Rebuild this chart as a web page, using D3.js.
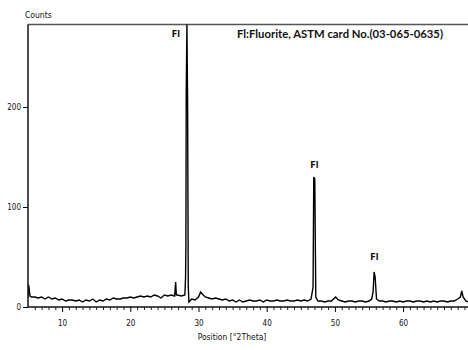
<!DOCTYPE html>
<html>
<head>
<meta charset="utf-8">
<script src="https://cdn.jsdelivr.net/npm/d3@7"></script>
<style>
  html, body { margin: 0; padding: 0; background: #fff; }
  svg { display: block; }
  .tick text { font-family: "Liberation Sans Narrow", "Arial Narrow", "DejaVu Sans Condensed", sans-serif; font-size: 8px; fill: #111; }
</style>
</head>
<body>
<svg id="chart" width="468" height="350"></svg>
<script>
// Diffraction angles (°2Theta) and intensities (counts) of the scan
const twoTheta = [
  5.0, 5.1, 5.3, 5.5, 6.0, 6.5, 7.0, 7.5, 8.0, 8.5, 9.0, 9.5,
  10.0, 10.5, 11.0, 11.5, 12.0, 12.5, 13.0, 13.5, 14.0, 14.5,
  15.0, 15.5, 16.0, 16.5, 17.0, 17.5, 18.0, 18.5, 19.0, 19.5,
  20.0, 20.5, 21.0, 21.5, 22.0, 22.5, 23.0, 23.5, 24.0, 24.5,
  25.0, 25.5, 26.0, 26.5, 26.65, 26.75, 26.9, 27.5, 28.0,
  28.1, 28.15, 28.2, 28.3, 28.4, 28.5, 28.6, 29.0, 29.5,
  30.0, 30.3, 30.7, 31.0, 31.5, 32.0, 32.5, 33.0, 33.5, 34.0, 34.5,
  35.0, 35.5, 36.0, 36.5, 37.0, 37.5, 38.0, 38.5, 39.0, 39.5,
  40.0, 40.5, 41.0, 41.5, 42.0, 42.5, 43.0, 43.5, 44.0, 44.5,
  45.0, 45.5, 46.0, 46.5, 46.8, 46.9, 47.05, 47.2, 47.5,
  48.0, 48.5, 49.0, 49.5, 50.1, 50.5, 51.0, 51.5, 52.0, 52.5,
  53.0, 53.5, 54.0, 54.5, 55.0, 55.4, 55.6, 55.75, 55.9, 56.1, 56.5,
  57.0, 57.5, 58.0, 58.5, 59.0, 59.5, 60.0, 60.5, 61.0, 61.5,
  62.0, 62.5, 63.0, 63.5, 64.0, 64.5, 65.0, 65.5, 66.0, 66.5,
  67.0, 67.5, 68.0, 68.4, 68.6, 68.8, 69.2, 69.6, 70.0
];
const counts = [
  9, 22, 11, 10, 10, 9, 10, 8, 10, 8, 9, 7,
  8, 6, 7, 7, 6, 7, 5, 7, 6, 8,
  5, 7, 6, 8, 7, 9, 8, 8, 9, 9,
  10, 9, 10, 11, 10, 11, 10, 12, 11, 9,
  12, 11, 12, 11, 25, 12, 12, 11, 12,
  29, 60, 212, 283, 208, 20, 5, 8, 7,
  10, 15, 12, 10, 9, 8, 9, 8, 7, 8, 6,
  7, 5, 7, 5, 6, 7, 6, 6, 7, 5,
  7, 6, 6, 7, 6, 6, 7, 6, 6, 7,
  6, 7, 6, 8, 20, 130, 128, 10, 6,
  6, 5, 6, 6, 10, 7, 6, 5, 6, 6,
  5, 6, 6, 5, 6, 8, 15, 35, 30, 8, 6,
  6, 5, 6, 6, 5, 6, 5, 6, 6, 5,
  6, 6, 5, 6, 5, 6, 5, 6, 6, 5,
  6, 6, 8, 10, 16, 10, 6, 5, 5
];

// Phase markers above the reflections
const peakLabels = ["Fl", "Fl", "Fl"];
const peakPositions = [26.7, 47.0, 55.8];
const peakLabelCounts = [270, 139, 47];

const xTicks = [10, 20, 30, 40, 50, 60];
const yTicks = [0, 100, 200];
const legendText = "Fl:Fluorite, ASTM card No.(03-065-0635)";

const svg = d3.select("#chart");
const plotLeft = 28, plotTop = 24.5, plotBottom = 307;

const x = d3.scaleLinear().domain([5, 70]).range([plotLeft, 471.3]);
const y = d3.scaleLinear().domain([0, 282.5]).range([plotBottom, plotTop]);

svg.append("defs").append("clipPath").attr("id", "plotClip")
  .append("rect").attr("x", plotLeft).attr("y", plotTop)
  .attr("width", 468 - plotLeft).attr("height", plotBottom - plotTop);

// Frame top line
svg.append("line")
  .attr("x1", plotLeft).attr("x2", 468).attr("y1", plotTop).attr("y2", plotTop)
  .attr("stroke", "#555").attr("stroke-width", 1.5);

// Pattern trace
const line = d3.line().x((d, i) => x(twoTheta[i])).y(d => y(d));
svg.append("path")
  .datum(counts)
  .attr("clip-path", "url(#plotClip)")
  .attr("fill", "none")
  .attr("stroke", "#000")
  .attr("stroke-width", 1.4)
  .attr("d", line);

// X axis with minor ticks every degree
const xMinor = d3.range(6, 70, 1).filter(v => v % 10 !== 0);
svg.append("g")
  .attr("transform", `translate(0,${plotBottom})`)
  .call(d3.axisBottom(x).tickValues(xMinor).tickSize(3).tickFormat(""))
  .call(g => g.select(".domain").remove())
  .call(g => g.selectAll(".tick line").attr("stroke", "#222"));
const xAxis = svg.append("g")
  .attr("transform", `translate(0,${plotBottom})`)
  .call(d3.axisBottom(x).tickValues(xTicks).tickSize(5).tickPadding(8));
xAxis.select(".domain").attr("stroke", "#111").attr("stroke-width", 1.5)
  .attr("d", `M${plotLeft},0H468`);

// Y axis
const yAxis = svg.append("g")
  .attr("transform", `translate(${plotLeft},0)`)
  .call(d3.axisLeft(y).tickValues(yTicks).tickSize(5).tickPadding(2));
yAxis.select(".domain").attr("stroke", "#111").attr("stroke-width", 1.5)
  .attr("d", `M0,${plotBottom}V${plotTop}`);

// Axis titles
const narrow = '"Liberation Sans Narrow", "Arial Narrow", "DejaVu Sans Condensed", sans-serif';
svg.append("text")
  .attr("x", 25).attr("y", 18)
  .attr("font-family", narrow).attr("font-size", 8.5).attr("fill", "#111")
  .text("Counts");
svg.append("text")
  .attr("x", 232).attr("y", 340).attr("text-anchor", "middle")
  .attr("font-family", narrow).attr("font-size", 8.5).attr("fill", "#111")
  .text("Position [°2Theta]");

// Phase labels
svg.selectAll("text.peak")
  .data(peakLabels)
  .join("text")
  .attr("class", "peak")
  .attr("x", (d, i) => x(peakPositions[i]))
  .attr("y", (d, i) => y(peakLabelCounts[i]))
  .attr("text-anchor", "middle")
  .attr("font-family", narrow).attr("font-size", 9).attr("font-weight", "bold").attr("fill", "#111")
  .text(d => d);

// Legend
svg.append("text")
  .attr("x", 237).attr("y", 38)
  .attr("font-family", "Lato, 'Open Sans', sans-serif")
  .attr("font-size", 10.5).attr("font-weight", "bold").attr("fill", "#111")
  .attr("textLength", 206).attr("lengthAdjust", "spacingAndGlyphs")
  .text(legendText);
</script>
</body>
</html>
